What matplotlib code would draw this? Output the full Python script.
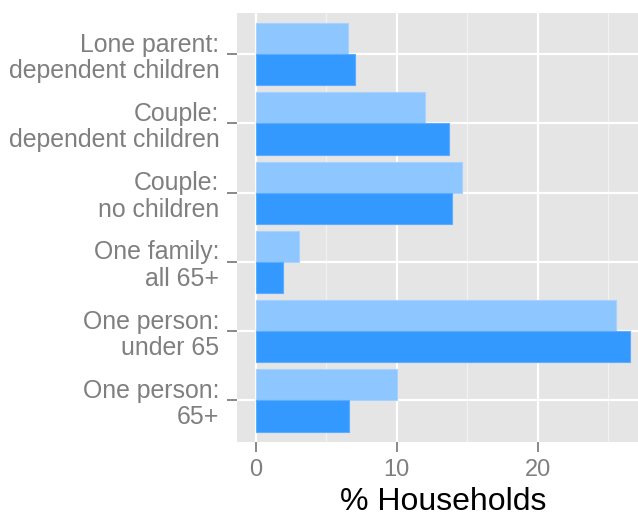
import numpy as np
import matplotlib
matplotlib.use('Agg')
import matplotlib.pyplot as plt

plt.rcParams['font.family'] = ['Liberation Sans', 'DejaVu Sans']

# household types, top to bottom as drawn
categories = ['Lone parent:\ndependent children',
              'Couple:\ndependent children',
              'Couple:\nno children',
              'One family:\nall 65+',
              'One person:\nunder 65',
              'One person:\n65+']
light_values = [6.5, 12.0, 14.65, 3.05, 25.6, 10.0]    # upper (light) bar in each pair
dark_values = [7.0, 13.7, 13.95, 1.9, 26.55, 6.6]      # lower (dark) bar in each pair
x_ticks = [0, 10, 20]

fig = plt.figure(figsize=(6.38, 5.17), dpi=100)
ax = fig.add_axes([0.372, 0.145, 0.645, 0.8305])
ax.set_facecolor('#E5E5E5')

# first category at the top
ypos = np.arange(len(categories))[::-1] + 1
h = 0.45
ax.barh(ypos + h / 2, light_values, height=h, color='#8EC6FF',
        edgecolor='#A9D3FF', linewidth=0.8, zorder=3)
ax.barh(ypos - h / 2, dark_values, height=h, color='#3399FF',
        edgecolor='#5CADFF', linewidth=0.8, zorder=3)

ax.set_xlim(-1.33, 27.9)
ax.set_ylim(0.4, len(categories) + 0.6)

ax.set_xticks(x_ticks)
ax.set_xticks([5, 15, 25], minor=True)
ax.set_yticks(ypos)
ax.set_yticklabels(categories, multialignment='right', linespacing=1.12)

ax.grid(which='major', color='white', linewidth=1.6, zorder=1)
ax.grid(which='minor', axis='x', color='#F2F2F2', linewidth=0.9, zorder=1)
ax.set_axisbelow(True)

for s in ax.spines.values():
    s.set_visible(False)

ax.tick_params(axis='y', which='major', length=7, width=1.3, color='#7F7F7F',
               labelcolor='#7F7F7F', labelsize=17.9, pad=6)
ax.tick_params(axis='x', which='major', length=7.5, width=1.3, color='#7F7F7F',
               labelcolor='#7F7F7F', labelsize=17, pad=5)
ax.tick_params(axis='x', which='minor', length=0)

ax.set_xlabel('% Households', fontsize=23, color='black', labelpad=4)

fig.savefig('out.png', dpi=100)
